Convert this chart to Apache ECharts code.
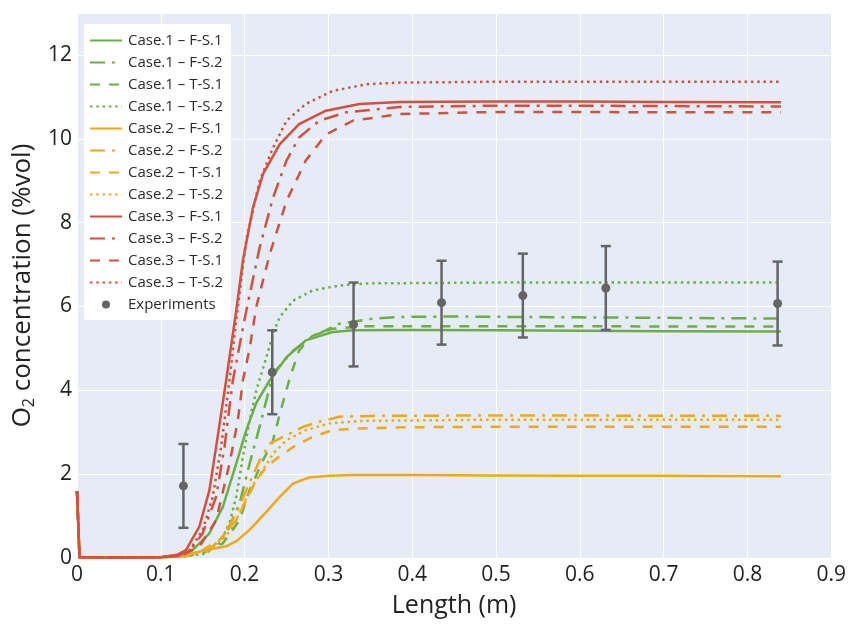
<!DOCTYPE html>
<html>
<head>
<meta charset="utf-8">
<script src="https://cdn.jsdelivr.net/npm/echarts@6/dist/echarts.min.js"></script>
<style>html,body{margin:0;padding:0;background:#fff}#c{width:849px;height:626px}</style>
</head>
<body>
<div id="c"></div>
<script>
// ---------- DATA ----------
const seriesNames = [
  'Case.1 – F-S.1','Case.1 – F-S.2','Case.1 – T-S.1','Case.1 – T-S.2',
  'Case.2 – F-S.1','Case.2 – F-S.2','Case.2 – T-S.1','Case.2 – T-S.2',
  'Case.3 – F-S.1','Case.3 – F-S.2','Case.3 – T-S.1','Case.3 – T-S.2'
];
const xTicks = [0,0.1,0.2,0.3,0.4,0.5,0.6,0.7,0.8,0.9];
const yTicks = [0,2,4,6,8,10,12];

const c1_FS1 = [[0,1.6],[0.003,0.02],[0.05,0.01],[0.1,0.02],[0.12,0.07],[0.138,0.19],[0.158,0.59],[0.174,1.22],[0.19,2.25],[0.202,3.05],[0.214,3.7],[0.23,4.24],[0.25,4.79],[0.273,5.19],[0.305,5.39],[0.33,5.43],[0.4,5.44],[0.5,5.43],[0.6,5.42],[0.7,5.41],[0.84,5.40]];
const c1_FS2 = [[0,1.6],[0.003,0.02],[0.05,0.01],[0.1,0.02],[0.13,0.06],[0.158,0.19],[0.178,0.59],[0.194,1.3],[0.206,2.25],[0.22,3.29],[0.234,4.4],[0.258,4.95],[0.281,5.27],[0.313,5.59],[0.353,5.71],[0.385,5.75],[0.45,5.76],[0.6,5.74],[0.7,5.73],[0.84,5.71]];
const c1_TS1 = [[0,1.6],[0.003,0.02],[0.05,0.01],[0.1,0.02],[0.13,0.05],[0.154,0.15],[0.174,0.35],[0.194,0.9],[0.206,1.62],[0.222,2.33],[0.234,2.81],[0.242,3.44],[0.254,4.3],[0.265,4.95],[0.281,5.3],[0.305,5.47],[0.345,5.53],[0.5,5.53],[0.84,5.52]];
const c1_TS2 = [[0,1.6],[0.003,0.02],[0.05,0.01],[0.1,0.02],[0.13,0.04],[0.154,0.11],[0.17,0.35],[0.182,0.83],[0.19,1.46],[0.198,2.41],[0.206,3.29],[0.214,4.0],[0.226,4.79],[0.234,5.35],[0.242,5.75],[0.258,6.14],[0.281,6.38],[0.313,6.5],[0.345,6.55],[0.5,6.57],[0.84,6.57]];

const c2_FS1 = [[0,1.6],[0.003,0.02],[0.05,0.01],[0.1,0.02],[0.123,0.03],[0.154,0.19],[0.178,0.28],[0.19,0.4],[0.206,0.67],[0.226,1.1],[0.242,1.46],[0.258,1.78],[0.277,1.92],[0.301,1.96],[0.33,1.98],[0.4,1.98],[0.5,1.97],[0.6,1.96],[0.7,1.96],[0.84,1.95]];
const c2_FS2 = [[0,1.6],[0.003,0.02],[0.05,0.01],[0.1,0.02],[0.13,0.05],[0.158,0.19],[0.174,0.51],[0.19,1.06],[0.202,1.62],[0.218,2.33],[0.23,2.73],[0.25,2.93],[0.27,3.13],[0.289,3.25],[0.313,3.37],[0.35,3.39],[0.5,3.40],[0.84,3.39]];
const c2_TS1 = [[0,1.6],[0.003,0.02],[0.05,0.01],[0.1,0.02],[0.13,0.05],[0.15,0.19],[0.17,0.43],[0.19,0.9],[0.202,1.38],[0.214,1.86],[0.226,2.17],[0.238,2.37],[0.258,2.65],[0.281,2.89],[0.305,3.05],[0.337,3.09],[0.4,3.12],[0.5,3.13],[0.84,3.13]];
const c2_TS2 = [[0,1.6],[0.003,0.02],[0.05,0.01],[0.1,0.02],[0.13,0.05],[0.158,0.23],[0.178,0.51],[0.194,1.06],[0.206,1.62],[0.222,2.1],[0.234,2.49],[0.25,2.81],[0.273,3.05],[0.301,3.21],[0.337,3.27],[0.5,3.30],[0.84,3.30]];

const c3_FS1 = [[0,1.6],[0.003,0.02],[0.05,0.01],[0.1,0.02],[0.12,0.08],[0.13,0.19],[0.146,0.75],[0.158,1.62],[0.166,2.65],[0.178,4.24],[0.19,5.9],[0.198,7.1],[0.21,8.36],[0.222,9.16],[0.242,9.87],[0.265,10.35],[0.297,10.67],[0.337,10.83],[0.385,10.88],[0.5,10.89],[0.6,10.89],[0.7,10.88],[0.84,10.87]];
const c3_FS2 = [[0,1.6],[0.003,0.02],[0.05,0.01],[0.1,0.02],[0.12,0.05],[0.135,0.18],[0.15,0.59],[0.166,1.46],[0.176,2.65],[0.186,4.24],[0.202,5.9],[0.218,7.41],[0.234,8.6],[0.25,9.48],[0.265,10.03],[0.289,10.43],[0.321,10.63],[0.385,10.76],[0.5,10.79],[0.6,10.79],[0.7,10.78],[0.84,10.77]];
const c3_TS1 = [[0,1.6],[0.003,0.02],[0.05,0.01],[0.1,0.02],[0.125,0.06],[0.146,0.27],[0.166,0.9],[0.182,2.25],[0.192,3.29],[0.198,4.24],[0.206,5.0],[0.214,6.0],[0.23,7.25],[0.25,8.52],[0.273,9.48],[0.297,10.1],[0.329,10.43],[0.385,10.59],[0.5,10.64],[0.6,10.64],[0.7,10.63],[0.84,10.63]];
const c3_TS2 = [[0,1.6],[0.003,0.02],[0.05,0.01],[0.1,0.02],[0.12,0.06],[0.135,0.2],[0.15,0.67],[0.162,1.46],[0.172,2.65],[0.182,4.24],[0.19,5.67],[0.202,7.6],[0.218,9.0],[0.234,9.79],[0.25,10.43],[0.273,10.83],[0.305,11.14],[0.345,11.3],[0.385,11.34],[0.5,11.36],[0.6,11.36],[0.7,11.36],[0.84,11.36]];

const expX   = [0.127,0.233,0.33,0.435,0.532,0.631,0.836];
const expY   = [1.72,4.43,5.57,6.09,6.26,6.44,6.07];
const expErr = [1.0,1.0,1.0,1.0,1.0,1.0,1.0];

// ---------- STYLE ----------
const GREEN = '#6cae45', ORANGE = '#f0a81a', RED = '#d4503e', GRAY = '#656565';
const DASH = {solid:'solid', dashdot:[15,7,3,7], dash:[10,9], dot:[2.5,3.8]};
const curveData = [c1_FS1,c1_FS2,c1_TS1,c1_TS2,c2_FS1,c2_FS2,c2_TS1,c2_TS2,c3_FS1,c3_FS2,c3_TS1,c3_TS2];
const curveColors = [GREEN,GREEN,GREEN,GREEN,ORANGE,ORANGE,ORANGE,ORANGE,RED,RED,RED,RED];
const curveDash = ['solid','dashdot','dash','dot','solid','dashdot','dash','dot','solid','dashdot','dash','dot'];

const series = curveData.map((d,i)=>({
  name: seriesNames[i], type:'line', data:d, symbol:'none', showSymbol:false,
  smooth:false,
  lineStyle:{color:curveColors[i], width:2.5, type:DASH[curveDash[i]], cap:'butt', join:'round'},
  itemStyle:{color:curveColors[i]}, z:2
}));

series.push({
  name:'errbars', type:'custom', z:4,
  data: expX.map((x,i)=>[x, expY[i]-expErr[i], expY[i]+expErr[i]]),
  renderItem:function(params, api){
    const lo = api.coord([api.value(0), api.value(1)]);
    const hi = api.coord([api.value(0), api.value(2)]);
    const w = 5;
    const st = {stroke:GRAY, lineWidth:2.5};
    return {type:'group', children:[
      {type:'line', shape:{x1:lo[0],y1:lo[1],x2:hi[0],y2:hi[1]}, style:st},
      {type:'line', shape:{x1:lo[0]-w,y1:lo[1],x2:lo[0]+w,y2:lo[1]}, style:st},
      {type:'line', shape:{x1:hi[0]-w,y1:hi[1],x2:hi[0]+w,y2:hi[1]}, style:st}
    ]};
  }
});
series.push({
  name:'Experiments', type:'scatter', z:5, symbol:'circle', symbolSize:9,
  data: expX.map((x,i)=>[x, expY[i]]),
  itemStyle:{color:GRAY, opacity:1}
});

const FONT = '"Open Sans", "Noto Sans", sans-serif';
const chart = echarts.init(document.getElementById('c'), null, {renderer:'canvas'});
chart.setOption({
  animation:false,
  backgroundColor:'#ffffff',
  textStyle:{fontFamily:FONT},
  grid:{left:77, right:16, top:13, bottom:68, show:true, backgroundColor:'#e5ecf6', borderWidth:0},
  legend:{
    data: seriesNames.map(n=>({name:n})).concat([{name:'Experiments', itemStyle:{opacity:1}}]),
    orient:'vertical', left:84, top:24,
    backgroundColor:'#ffffff', padding:[9,8,8,5],
    itemWidth:32, itemHeight:8, itemGap:7,
    itemStyle:{opacity:0},
    textStyle:{fontFamily:FONT, fontSize:15, color:'#2a2a2a', padding:[0,0,0,1]},
    selectedMode:false
  },
  xAxis:{
    type:'value', min:xTicks[0], max:xTicks[xTicks.length-1], interval:0.1,
    name:'Length (m)', nameLocation:'middle', nameGap:35,
    nameTextStyle:{fontFamily:FONT, fontSize:25, color:'#222'},
    axisLine:{show:false}, axisTick:{show:false},
    axisLabel:{fontFamily:FONT, fontSize:21, color:'#222', margin:7,
      formatter:v=>String(Math.round(v*10)/10)},
    splitLine:{show:true, lineStyle:{color:'#ffffff', width:1}}
  },
  yAxis:{
    type:'value', min:0, max:13, interval:2,
    name:'{a|O}{s|2}{a| concentration (%vol)}', nameLocation:'middle', nameGap:35,
    nameTextStyle:{fontFamily:FONT, fontSize:26, color:'#222',
      rich:{a:{fontFamily:FONT, fontSize:26, color:'#222'},
            s:{fontFamily:FONT, fontSize:16, color:'#222', verticalAlign:'bottom', padding:[12,0,0,0]}}},
    axisLine:{show:false}, axisTick:{show:false},
    axisLabel:{fontFamily:FONT, fontSize:21, color:'#222', margin:5,
      formatter:v=> (yTicks.indexOf(v)>=0 ? String(v) : '')},
    splitLine:{show:true, lineStyle:{color:'#ffffff', width:1}}
  },
  series: series
});
</script>
</body>
</html>
